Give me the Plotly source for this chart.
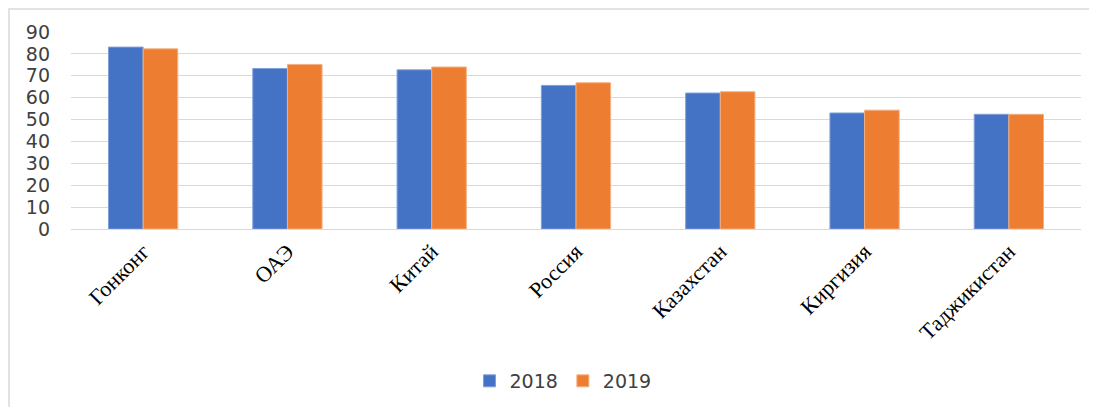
import plotly.graph_objects as go

categories = ["Гонконг", "ОАЭ", "Китай", "Россия", "Казахстан", "Киргизия", "Таджикистан"]
values_2018 = [83.1, 73.3, 72.7, 65.6, 62.1, 53.0, 52.4]
values_2019 = [82.3, 75.2, 74.0, 66.8, 62.7, 54.3, 52.4]
y_ticks = [0, 10, 20, 30, 40, 50, 60, 70, 80, 90]

# page offset of 8px (default body margin)
OFF = 8
W, H = 1097 - OFF, 407 - OFF
ml, mt = 71 - OFF, 32 - OFF
pw, ph = 1010, 197
mr = W - ml - pw
mb = H - mt - ph

fig = go.Figure()
fig.add_trace(go.Bar(name="2018", x=categories, y=values_2018,
                     marker=dict(color="#4472C4", line=dict(color="#7f9fd8", width=1))))
fig.add_trace(go.Bar(name="2019", x=categories, y=values_2019,
                     marker=dict(color="#ED7D31", line=dict(color="#f4b183", width=1))))

# outer chart border
fig.add_shape(type="rect", xref="paper", yref="paper",
              x0=(8 - OFF + 1 - ml) / pw, x1=(W + 5 - ml) / pw,
              y0=1 - (H + 5 - mt) / ph, y1=1 + (mt - (9 - OFF)) / ph,
              line=dict(color="#d9d9d9", width=1.5), fillcolor="rgba(0,0,0,0)", layer="below")

fig.update_layout(
    width=W, height=H,
    margin=dict(l=ml, r=mr, t=mt, b=mb, autoexpand=False),
    paper_bgcolor="white", plot_bgcolor="white",
    barmode="group", bargap=0.52, bargroupgap=0,
    font=dict(family="DejaVu Sans", color="#404040"),
    showlegend=True,
    legend=dict(orientation="h", x=(563 - OFF - ml) / pw, xanchor="center",
                y=1 - (381 - OFF - mt) / ph, yanchor="middle",
                font=dict(family="DejaVu Sans", size=19, color="#404040"),
                itemwidth=30, traceorder="normal", tracegroupgap=0),
    xaxis=dict(tickangle=-45, tickfont=dict(family="Liberation Serif", size=22, color="#000000"),
               showline=True, linecolor="#d9d9d9", linewidth=1, ticks="", automargin=False),
    yaxis=dict(range=[0, 90], tickvals=y_ticks, showgrid=True, gridcolor="#d9d9d9", gridwidth=1,
               zeroline=False, tickfont=dict(family="DejaVu Sans", size=19, color="#404040"),
               ticklabelstandoff=20, automargin=False),
)

fig.write_html("out.html")
